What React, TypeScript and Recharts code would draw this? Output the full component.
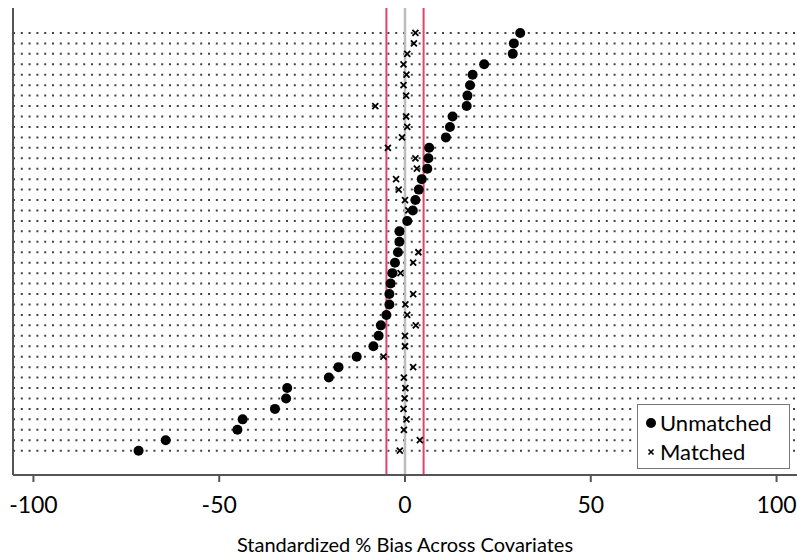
import {
  Legend,
  ReferenceLine,
  Scatter,
  ScatterChart,
  XAxis,
  YAxis,
} from 'recharts';

// one row per covariate, listed top to bottom
const rows = [
  41, 40, 39, 38, 37, 36, 35, 34, 33, 32, 31, 30, 29, 28, 27, 26, 25, 24, 23, 22, 21,
  20, 19, 18, 17, 16, 15, 14, 13, 12, 11, 10, 9, 8, 7, 6, 5, 4, 3, 2, 1,
];

const unmatched = [
  31.0, 29.3, 29.0, 21.3, 18.2, 17.5, 16.8, 16.6, 12.8, 12.1, 11.0, 6.5, 6.3, 6.0, 4.5,
  3.7, 2.8, 2.1, 0.6, -1.5, -1.5, -1.9, -2.7, -3.4, -3.9, -4.2, -4.2, -5.0, -6.5, -7.1,
  -8.5, -13.0, -17.9, -20.5, -31.7, -32.0, -35.0, -43.7, -45.1, -64.4, -71.7,
];

const matched = [
  2.8, 2.4, 0.6, -0.4, 0.4, -0.4, 0.3, -8.0, 0.3, 0.6, -0.8, -4.6, 2.8, 3.2, -2.4, -1.7,
  0.0, 0.9, 0.5, -1.2, -1.8, 3.6, 2.2, -1.2, -3.6, 2.2, 0.1, 0.6, 2.9, 0.0, 0.0, -5.8, 2.2,
  -0.3, 0.1, -0.1, -0.4, 0.4, -0.3, 4.0, -1.4,
];

const xTicks = [-100, -50, 0, 50, 100];
const thresholds = [-5, 5];

const unmatchedData = rows.map((r, i) => ({ row: r, bias: unmatched[i] }));
const matchedData = rows.map((r, i) => ({ row: r, bias: matched[i] }));

const FONT = 'Lato, "Open Sans", sans-serif';
const AXIS = '#555';

function DotShape(p: any) {
  return <circle cx={p.cx} cy={p.cy} r={5} fill="#000" />;
}

function CrossShape(p: any) {
  const { cx, cy } = p;
  const s = 3;
  return (
    <path
      d={`M${cx - s},${cy - s}L${cx + s},${cy + s}M${cx - s},${cy + s}L${cx + s},${cy - s}`}
      stroke="#000"
      strokeWidth={1.8}
      fill="none"
    />
  );
}

function LegendBox() {
  return (
    <div style={{ fontFamily: FONT, fontSize: 22, color: '#000', lineHeight: '29px', padding: '3px 0 0 6px' }}>
      <div style={{ display: 'flex', alignItems: 'center' }}>
        <svg width={16} height={14}>
          <circle cx={7} cy={7} r={5} fill="#000" />
        </svg>
        <span>Unmatched</span>
      </div>
      <div style={{ display: 'flex', alignItems: 'center' }}>
        <svg width={16} height={14}>
          <path d="M4.5,4.5L9.5,9.5M4.5,9.5L9.5,4.5" stroke="#000" strokeWidth={1.6} />
        </svg>
        <span>Matched</span>
      </div>
    </div>
  );
}

export default function App() {
  return (
    <div style={{ position: 'absolute', left: 0, top: 0, width: 797, height: 557, background: '#fff', fontFamily: FONT }}>
      <ScatterChart width={797} height={557} margin={{ top: 8, right: 0, bottom: 0, left: 12 }}>
        <XAxis
          type="number"
          dataKey="bias"
          domain={[-105.5, 105.5]}
          ticks={xTicks}
          allowDataOverflow
          height={82}
          stroke={AXIS}
          strokeWidth={2}
          tickSize={7}
          tickMargin={15}
          tick={{ fill: '#000', fontSize: 23, fontFamily: FONT }}
          label={{
            value: 'Standardized % Bias Across Covariates',
            position: 'insideBottom',
            offset: 5,
            fill: '#000',
            fontSize: 20,
            fontFamily: FONT,
          }}
        />
        <YAxis
          type="number"
          dataKey="row"
          domain={[-1.33, 43.39]}
          ticks={rows}
          allowDataOverflow
          width={1}
          stroke={AXIS}
          strokeWidth={2}
          tick={() => <g />}
          tickLine={false}
        />
        {rows.map((r) => (
          <ReferenceLine key={`row-${r}`} y={r} stroke="#444" strokeWidth={2} strokeDasharray="2 5.8" />
        ))}
        <ReferenceLine x={0} stroke="#bdbdbd" strokeWidth={2.5} />
        {thresholds.map((t) => (
          <ReferenceLine key={t} x={t} stroke="#e0436b" strokeWidth={2} />
        ))}
        <Legend
          layout="vertical"
          align="center"
          verticalAlign="middle"
          content={() => <LegendBox />}
          wrapperStyle={{
            left: 637,
            top: 404,
            width: 153,
            height: 65,
            border: '1.5px solid #777',
            background: '#fff',
            boxSizing: 'border-box',
          }}
        />
        <Scatter name="Unmatched" data={unmatchedData} shape={DotShape} isAnimationActive={false} />
        <Scatter name="Matched" data={matchedData} shape={CrossShape} isAnimationActive={false} />
      </ScatterChart>
    </div>
  );
}
